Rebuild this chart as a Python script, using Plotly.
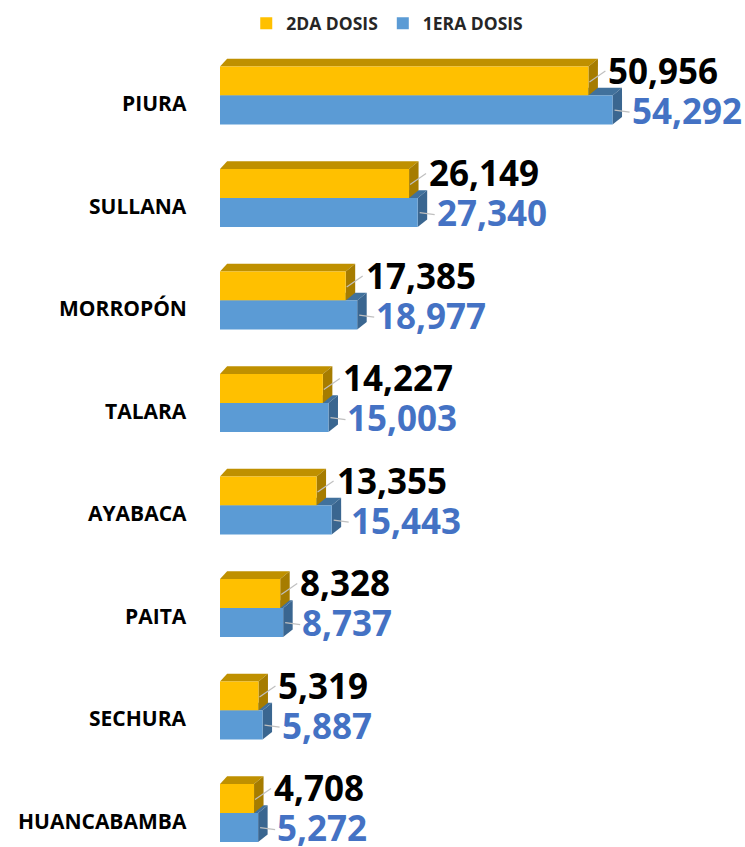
import plotly.graph_objects as go

# ---- data ----
categorias = ["PIURA", "SULLANA", "MORROPÓN", "TALARA", "AYABACA", "PAITA", "SECHURA", "HUANCABAMBA"]
segunda_dosis = [50956, 26149, 17385, 14227, 13355, 8328, 5319, 4708]
primera_dosis = [54292, 27340, 18977, 15003, 15443, 8737, 5887, 5272]
nombres_series = ["2DA DOSIS", "1ERA DOSIS"]

# ---- layout constants ----
W, H = 745, 847
ML = 220
PLOT_W = W - ML
X_MAX = 72614
GROUP_PX = 102.5          # pixel distance between provinces
FIRST_PX = 95.5           # pixel row of the first province
Y_TOP = -FIRST_PX / GROUP_PX
Y_BOT = (H - FIRST_PX) / GROUP_PX
BAR_H = 0.284
DEPTH_X_PX, DEPTH_Y_PX = 9.5, 7.7
dx = DEPTH_X_PX * X_MAX / PLOT_W
dy = DEPTH_Y_PX / GROUP_PX

AMARILLO = dict(front="#FFC000", top="#BF9000", side="#A67C00", label="#000000")
AZUL = dict(front="#5B9BD5", top="#41719C", side="#3A6690", label="#4472C4")
FONT = "Open Sans"

pos = list(range(len(categorias)))
pos_amarillo = [p - BAR_H / 2 for p in pos]
pos_azul = [p + BAR_H / 2 for p in pos]

fig = go.Figure()
fig.add_trace(go.Bar(
    name=nombres_series[0], x=segunda_dosis, y=pos_amarillo, orientation="h",
    width=BAR_H, marker=dict(color=AMARILLO["front"], line=dict(width=0)),
    hoverinfo="x",
))
fig.add_trace(go.Bar(
    name=nombres_series[1], x=primera_dosis, y=pos_azul, orientation="h",
    width=BAR_H, marker=dict(color=AZUL["front"], line=dict(width=0)),
    hoverinfo="x",
))


def path(points):
    return "M " + " L ".join(f"{x},{y}" for x, y in points) + " Z"


def faces(value, yc, colors):
    """Top and right-side faces that give each bar its 3-D look."""
    y0, y1 = yc - BAR_H / 2, yc + BAR_H / 2
    top = [(0, y0), (dx * 0.75, y0 - dy), (value + dx, y0 - dy), (value, y0)]
    side = [(value, y0), (value + dx, y0 - dy), (value + dx, y1 - dy), (value, y1)]
    return [
        dict(type="path", path=path(top), fillcolor=colors["top"], line=dict(width=0),
             layer="below", xref="x", yref="y"),
        dict(type="path", path=path(side), fillcolor=colors["side"], line=dict(width=0),
             layer="below", xref="x", yref="y"),
    ]


shapes = []
for i in pos:
    shapes += faces(primera_dosis[i], pos_azul[i], AZUL)
    shapes += faces(segunda_dosis[i], pos_amarillo[i], AMARILLO)

# leader lines from the bar ends to the value labels
for i in pos:
    shapes.append(dict(type="line", xref="x", yref="y", xsizemode="pixel", ysizemode="pixel",
                       xanchor=segunda_dosis[i], yanchor=pos_amarillo[i],
                       x0=1, x1=17, y0=-1, y1=10, line=dict(color="#BFBFBF", width=1.2)))
    shapes.append(dict(type="line", xref="x", yref="y", xsizemode="pixel", ysizemode="pixel",
                       xanchor=primera_dosis[i], yanchor=pos_azul[i],
                       x0=2, x1=17, y0=0, y1=-2, line=dict(color="#BFBFBF", width=1.2)))

annotations = []
for i in pos:
    annotations.append(dict(
        x=0, xref="paper", y=pos[i], yref="y", text=categorias[i], showarrow=False,
        xanchor="right", yanchor="middle", xshift=-31, yshift=-7.5,
        font=dict(family=FONT, size=21, color="#000000", weight="bold"),
    ))
    annotations.append(dict(
        x=segunda_dosis[i], xref="x", y=pos_amarillo[i], yref="y", text=f"{segunda_dosis[i]:,}",
        showarrow=False, xanchor="left", yanchor="middle", xshift=19, yshift=10.5,
        height=37, borderpad=0, valign="middle",
        font=dict(family=FONT, size=35, color=AMARILLO["label"], weight="bold"),
    ))
    annotations.append(dict(
        x=primera_dosis[i], xref="x", y=pos_azul[i], yref="y", text=f"{primera_dosis[i]:,}",
        showarrow=False, xanchor="left", yanchor="middle", xshift=18, yshift=0,
        height=37, borderpad=0, valign="middle",
        font=dict(family=FONT, size=35, color=AZUL["label"], weight="bold"),
    ))

fig.update_layout(
    width=W, height=H,
    margin=dict(l=ML, r=0, t=0, b=0),
    paper_bgcolor="white", plot_bgcolor="white",
    barmode="overlay",
    showlegend=True,
    legend=dict(orientation="h", x=0.05, xanchor="left", y=1 - 23.3 / H, yanchor="middle",
                font=dict(family=FONT, size=17.5, color="#262626", weight="bold"),
                traceorder="normal", bgcolor="rgba(0,0,0,0)"),
    xaxis=dict(range=[0, X_MAX], visible=False, fixedrange=True),
    yaxis=dict(range=[Y_BOT, Y_TOP], visible=False, fixedrange=True),
    shapes=shapes,
    annotations=annotations,
)

fig.write_html("out.html")
